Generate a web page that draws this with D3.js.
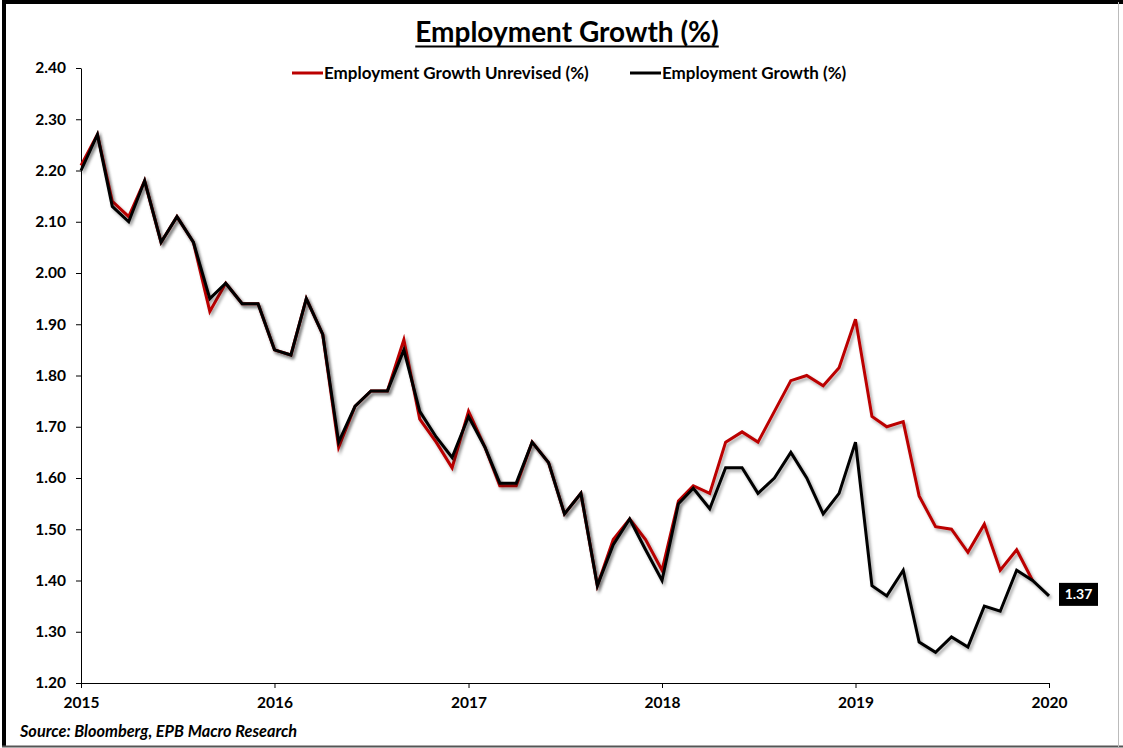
<!DOCTYPE html>
<html>
<head>
<meta charset="utf-8">
<script src="https://cdn.jsdelivr.net/npm/d3@7"></script>
<style>
  html, body { margin: 0; padding: 0; background: #fff; }
  svg { display: block; }
  text { font-family: Lato, "Open Sans", sans-serif; }
</style>
</head>
<body>
<svg id="chart" width="1123" height="748"></svg>
<script>
// Monthly employment growth, Jan 2015 – Jan 2020 (%)
const startMonth = new Date(2015, 0, 1);
const endMonth = new Date(2020, 0, 1);

const growthRevised = [
  2.20, 2.27, 2.13, 2.10, 2.18, 2.06, 2.11, 2.06, 1.95, 1.98, 1.94, 1.94,
  1.85, 1.84, 1.95, 1.88, 1.67, 1.74, 1.77, 1.77, 1.85, 1.73, 1.68, 1.64,
  1.72, 1.66, 1.59, 1.59, 1.67, 1.63, 1.53, 1.57, 1.39, 1.47, 1.52, 1.46,
  1.40, 1.55, 1.58, 1.54, 1.62, 1.62, 1.57, 1.60, 1.65, 1.60, 1.53, 1.57,
  1.67, 1.39, 1.37, 1.42, 1.28, 1.26, 1.29, 1.27, 1.35, 1.34, 1.42, 1.40,
  1.37
];

const growthUnrevised = [
  2.21, 2.27, 2.14, 2.11, 2.18, 2.06, 2.11, 2.06, 1.925, 1.98, 1.94, 1.94,
  1.85, 1.84, 1.95, 1.88, 1.66, 1.74, 1.77, 1.77, 1.87, 1.715, 1.67, 1.62,
  1.73, 1.66, 1.585, 1.585, 1.67, 1.63, 1.53, 1.57, 1.39, 1.48, 1.52, 1.48,
  1.42, 1.555, 1.585, 1.57, 1.67, 1.69, 1.67, 1.73, 1.79, 1.80, 1.78, 1.815,
  1.91, 1.72, 1.70, 1.71, 1.565, 1.505, 1.50, 1.455, 1.51, 1.42, 1.46, 1.40
];

const yTicks = [1.20, 1.30, 1.40, 1.50, 1.60, 1.70, 1.80, 1.90, 2.00, 2.10, 2.20, 2.30, 2.40];
const titleText = "Employment Growth (%)";
const legendNames = ["Employment Growth Unrevised (%)", "Employment Growth (%)"];
const sourceText = "Source: Bloomberg, EPB Macro Research";

const months = d3.timeMonth.range(startMonth, d3.timeMonth.offset(endMonth, 1));

const svg = d3.select("#chart");
const W = 1123, H = 748;
const plot = { left: 81, right: 1049, top: 68, bottom: 683 };

const x = d3.scaleTime().domain([startMonth, endMonth]).range([plot.left, plot.right]);
const y = d3.scaleLinear().domain([1.2, 2.4]).range([plot.bottom, plot.top]);

// drop shadow for the series lines
const defs = svg.append("defs");
const f = defs.append("filter").attr("id", "shadow")
  .attr("x", "-5%").attr("y", "-5%").attr("width", "110%").attr("height", "110%");
f.append("feDropShadow").attr("dx", 2).attr("dy", 2.5).attr("stdDeviation", 1.6)
  .attr("flood-color", "#000").attr("flood-opacity", 0.35);

// outer frame
svg.append("rect").attr("width", W).attr("height", H).attr("fill", "#fff");
svg.append("line").attr("x1", 4).attr("x2", 4).attr("y1", 1).attr("y2", 747)
  .attr("stroke", "#000").attr("stroke-width", 4);
svg.append("line").attr("x1", 2).attr("x2", 1123).attr("y1", 2).attr("y2", 2)
  .attr("stroke", "#000").attr("stroke-width", 4);
svg.append("line").attr("x1", 2).attr("x2", 1123).attr("y1", 746.5).attr("y2", 746.5)
  .attr("stroke", "#555").attr("stroke-width", 2);
svg.append("line").attr("x1", 1118.5).attr("x2", 1118.5).attr("y1", 2).attr("y2", 747)
  .attr("stroke", "#bbb").attr("stroke-width", 1);

// title
const title = svg.append("text").attr("x", 567).attr("y", 42)
  .attr("text-anchor", "middle").attr("font-size", 28).attr("font-weight", 700)
  .attr("fill", "#000").text(titleText);
const tb = title.node().getBBox();
svg.append("line").attr("x1", tb.x).attr("x2", tb.x + tb.width)
  .attr("y1", 46.5).attr("y2", 46.5).attr("stroke", "#000").attr("stroke-width", 1.8);

// y axis
const yAxis = svg.append("g").attr("transform", `translate(${plot.left},0)`)
  .call(d3.axisLeft(y).tickValues(yTicks).tickFormat(d3.format(".2f")).tickSize(5).tickSizeOuter(0));
yAxis.select(".domain").attr("stroke", "#000").attr("stroke-width", 1);
yAxis.selectAll(".tick line").attr("stroke", "#000");
yAxis.selectAll(".tick text").attr("x", -15).attr("font-size", 15.5).attr("font-weight", 700)
  .attr("fill", "#000").style("font-family", "Lato, sans-serif");

// x axis
const xAxis = svg.append("g").attr("transform", `translate(0,${plot.bottom})`)
  .call(d3.axisBottom(x).ticks(d3.timeYear.every(1)).tickFormat(d3.timeFormat("%Y")).tickSize(5).tickSizeOuter(0));
xAxis.select(".domain").attr("stroke", "#000").attr("stroke-width", 1);
xAxis.selectAll(".tick line").attr("stroke", "#000");
xAxis.selectAll(".tick text").attr("y", 14).attr("font-size", 15.5).attr("font-weight", 700)
  .attr("fill", "#000").style("font-family", "Lato, sans-serif");

// series
const line = d3.line().x((d, i) => x(months[i])).y(d => y(d));
svg.append("path").datum(growthUnrevised).attr("d", line)
  .attr("fill", "none").attr("stroke", "#bb0000").attr("stroke-width", 3)
  .attr("stroke-linejoin", "miter").attr("filter", "url(#shadow)");
svg.append("path").datum(growthRevised).attr("d", line)
  .attr("fill", "none").attr("stroke", "#000").attr("stroke-width", 3)
  .attr("stroke-linejoin", "miter").attr("filter", "url(#shadow)");

// last value tag
const lastIdx = growthRevised.length - 1;
const lastVal = growthRevised[lastIdx];
const tagX = x(months[lastIdx]) + 10, tagY = y(lastVal) - 2;
svg.append("rect").attr("x", tagX).attr("y", tagY - 11).attr("width", 39).attr("height", 23).attr("fill", "#000");
svg.append("text").attr("x", tagX + 19.5).attr("y", tagY + 5.5).attr("text-anchor", "middle")
  .attr("font-size", 14).attr("font-weight", 700).attr("fill", "#fff").text(d3.format(".2f")(lastVal));

// legend
const legendColors = ["#bb0000", "#000"];
const legendX = [292, 630];
legendNames.forEach((name, i) => {
  svg.append("line").attr("x1", legendX[i]).attr("x2", legendX[i] + 31)
    .attr("y1", 73).attr("y2", 73).attr("stroke", legendColors[i]).attr("stroke-width", 3);
  svg.append("text").attr("x", legendX[i] + 32).attr("y", 78.5)
    .attr("font-size", 17).attr("font-weight", 700).attr("fill", "#000").text(name);
});

// source note
svg.append("text").attr("x", 20).attr("y", 737).attr("font-size", 16.3)
  .attr("font-weight", 700).attr("font-style", "italic").attr("fill", "#000").text(sourceText);
</script>
</body>
</html>
